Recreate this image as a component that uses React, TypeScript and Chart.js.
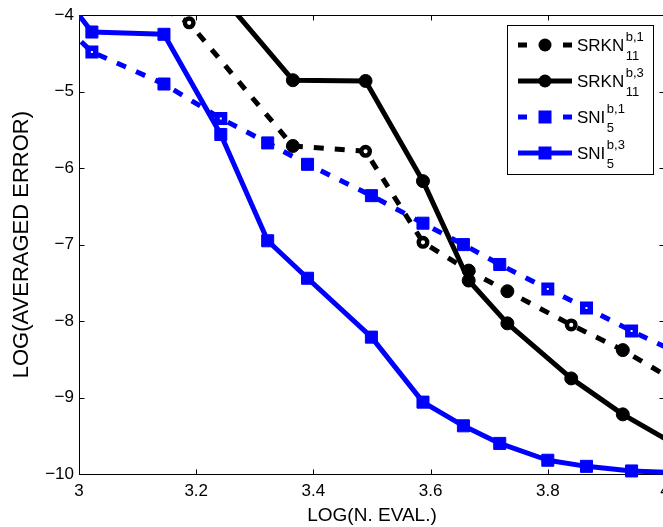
import React, { useEffect, useRef } from 'react';
import { Chart, registerables } from 'chart.js';

Chart.register(...registerables);

const FONT = '"Liberation Sans", Arial, Helvetica, sans-serif';

// log10 of the number of function evaluations for each method
const srknLogEval = [3.02, 3.188, 3.365, 3.489, 3.587, 3.665, 3.731, 3.84, 3.928, 4.01];
const srknB1Err = [-3.4, -4.1, -5.71, -5.78, -6.97, -7.34, -7.61, -8.05, -8.38, -8.75];
const srknB3Err = [null, -3.25, -4.85, -4.86, -6.17, -7.47, -8.03, -8.75, -9.22, -9.58];

const sniLogEval = [2.9, 3.022, 3.145, 3.242, 3.322, 3.39, 3.499, 3.587, 3.656, 3.718, 3.8, 3.866, 3.943, 4.02];
const sniB1Err = [-3.59, -4.48, -4.9, -5.35, -5.67, -5.95, -6.36, -6.72, -7.0, -7.26, -7.58, -7.83, -8.13, -8.41];
const sniB3Err = [-3.0, -4.22, -4.25, -5.56, -6.95, -7.44, -8.21, -9.06, -9.37, -9.6, -9.82, -9.9, -9.96, -9.985];

// markers printed as rings (white centre) on the dashed curves
const srknB1RingIdx = [1, 3, 4, 7];
const sniB1RingIdx = [1, 3, 10, 11, 12];

const xTickValues = [3, 3.2, 3.4, 3.6, 3.8, 4];
const xTickLabels = ['3', '3.2', '3.4', '3.6', '3.8', '4'];
const yTickValues = [-10, -9, -8, -7, -6, -5, -4];
const yTickLabels = ['\u221210', '\u22129', '\u22128', '\u22127', '\u22126', '\u22125', '\u22124'];

const legendNames = ['SRKN', 'SRKN', 'SNI', 'SNI'];
const legendSup = ['b,1', 'b,3', 'b,1', 'b,3'];
const legendSub = ['11', '11', '5', '5'];

const BLUE = '#0000ff';
const BLACK = '#000000';

type Style = 'circle' | 'rect';

function makeSeries(
  xs: number[],
  ys: (number | null)[],
  color: string,
  dashed: boolean,
  style: Style,
  rings: number[],
  order: number,
) {
  const isRing = (i: number) => rings.includes(i);
  const radius = (c: any) =>
    style === 'circle' ? (isRing(c.dataIndex) ? 4.3 : 6.5) : isRing(c.dataIndex) ? 5.3 : 8.5;
  const bw = (c: any) =>
    style === 'circle' ? (isRing(c.dataIndex) ? 4.4 : 1) : isRing(c.dataIndex) ? 5.5 : 1;
  return {
    data: xs.map((x, i) => ({ x, y: ys[i] })),
    borderColor: color,
    backgroundColor: color,
    borderWidth: 5,
    borderDash: dashed ? [10, 11] : [],
    borderJoinStyle: 'round',
    pointStyle: style,
    pointRadius: radius,
    pointHoverRadius: radius,
    pointBorderWidth: bw,
    pointHoverBorderWidth: bw,
    pointBackgroundColor: (c: any) => (isRing(c.dataIndex) ? '#ffffff' : color),
    pointBorderColor: color,
    tension: 0,
    spanGaps: false,
    clip: { left: 0, top: 0, right: 0, bottom: 10 },
    order,
    _dashed: dashed,
    _style: style,
  };
}

const framePlugin = {
  id: 'boxFrame',
  beforeDatasetsDraw(chart: any) {
    const { ctx, chartArea: a, scales } = chart;
    const l = Math.round(a.left) + 0.5;
    const r = Math.round(a.right) - 0.5;
    const t = Math.round(a.top) + 0.5;
    const b = Math.round(a.bottom) + 0.5;
    ctx.save();
    ctx.strokeStyle = BLACK;
    ctx.lineWidth = 1;
    ctx.setLineDash([]);
    ctx.strokeRect(l, t, r - l, b - t);
    ctx.beginPath();
    for (const v of xTickValues) {
      const x = Math.round(scales.x.getPixelForValue(v)) + 0.5;
      ctx.moveTo(x, b);
      ctx.lineTo(x, b - 5);
      ctx.moveTo(x, t);
      ctx.lineTo(x, t + 5);
    }
    for (const v of yTickValues) {
      const y = Math.round(scales.y.getPixelForValue(v)) + 0.5;
      ctx.moveTo(l, y);
      ctx.lineTo(l + 5, y);
      ctx.moveTo(r, y);
      ctx.lineTo(r - 5, y);
    }
    ctx.stroke();
    ctx.restore();
  },
};

const legendPlugin = {
  id: 'subscriptLegend',
  afterDraw(chart: any) {
    const { ctx, chartArea: a } = chart;
    const bw = 146;
    const bh = 149;
    const bx = Math.round(a.right) - 12 - bw + 0.5;
    const by = Math.round(a.top) + 10 + 0.5;
    ctx.save();
    ctx.fillStyle = '#ffffff';
    ctx.fillRect(bx, by, bw, bh);
    ctx.strokeStyle = BLACK;
    ctx.lineWidth = 1;
    ctx.setLineDash([]);
    ctx.strokeRect(bx, by, bw, bh);

    chart.data.datasets.forEach((ds: any, i: number) => {
      const cy = by + 19.5 + i * 36;
      const x0 = bx + 10.5;
      const x1 = x0 + 54;
      const mx = (x0 + x1) / 2;
      ctx.strokeStyle = ds.borderColor;
      ctx.lineWidth = ds.borderWidth;
      ctx.lineCap = 'butt';
      ctx.setLineDash(ds._dashed ? [9, 13.5] : []);
      ctx.beginPath();
      ctx.moveTo(x0, cy);
      ctx.lineTo(x1, cy);
      ctx.stroke();
      ctx.setLineDash([]);
      ctx.fillStyle = ds.borderColor;
      if (ds._style === 'circle') {
        ctx.beginPath();
        ctx.arc(mx, cy, 6.5, 0, Math.PI * 2);
        ctx.fill();
      } else {
        ctx.fillRect(mx - 6.5, cy - 6.5, 13, 13);
      }
      const tx = x1 + 5;
      ctx.fillStyle = BLACK;
      ctx.textAlign = 'left';
      ctx.textBaseline = 'alphabetic';
      ctx.font = `17px ${FONT}`;
      ctx.fillText(legendNames[i], tx, cy + 6);
      const w = ctx.measureText(legendNames[i]).width;
      ctx.font = `13px ${FONT}`;
      ctx.fillText(legendSup[i], tx + w + 1.5, cy - 4.5);
      ctx.fillText(legendSub[i], tx + w + 1.5, cy + 15);
    });
    ctx.restore();
  },
};

export default function App() {
  const ref = useRef<HTMLCanvasElement>(null);

  useEffect(() => {
    if (!ref.current) return;
    const chart = new Chart(ref.current, {
      type: 'line',
      data: {
        datasets: [
          makeSeries(srknLogEval, srknB1Err, BLACK, true, 'circle', srknB1RingIdx, 4),
          makeSeries(srknLogEval, srknB3Err, BLACK, false, 'circle', [], 3),
          makeSeries(sniLogEval, sniB1Err, BLUE, true, 'rect', sniB1RingIdx, 2),
          makeSeries(sniLogEval, sniB3Err, BLUE, false, 'rect', [], 1),
        ] as any,
      },
      options: {
        animation: false,
        responsive: false,
        maintainAspectRatio: false,
        devicePixelRatio: 1,
        events: [],
        layout: { padding: { left: 0, top: 12, right: 15, bottom: 0 } },
        plugins: {
          legend: { display: false },
          tooltip: { enabled: false },
          title: { display: false },
        },
        scales: {
          x: {
            type: 'linear',
            min: 3,
            max: 4,
            afterFit: (s: any) => {
              s.height = 53;
            },
            afterBuildTicks: (s: any) => {
              s.ticks = xTickValues.map((value) => ({ value }));
            },
            ticks: {
              autoSkip: false,
              maxRotation: 0,
              padding: 7,
              color: BLACK,
              font: { family: FONT, size: 17 },
              callback: (_v: any, i: number) => xTickLabels[i],
            },
            grid: { display: false, drawTicks: false, tickLength: 0 },
            border: { display: false },
            title: {
              display: true,
              text: 'LOG(N. EVAL.)',
              color: BLACK,
              font: { family: FONT, size: 19 },
              padding: { top: 0, bottom: 0 },
            },
          },
          y: {
            type: 'linear',
            min: -10,
            max: -4,
            afterFit: (s: any) => {
              s.width = 79;
            },
            afterBuildTicks: (s: any) => {
              s.ticks = yTickValues.map((value) => ({ value }));
            },
            ticks: {
              autoSkip: false,
              padding: 5,
              color: BLACK,
              font: { family: FONT, size: 17 },
              callback: (_v: any, i: number) => yTickLabels[i],
            },
            grid: { display: false, drawTicks: false, tickLength: 0 },
            border: { display: false },
            title: {
              display: true,
              text: 'LOG(AVERAGED ERROR)',
              color: BLACK,
              font: { family: FONT, size: 22 },
              padding: { top: 9, bottom: 0 },
            },
          },
        },
      } as any,
      plugins: [framePlugin, legendPlugin],
    });
    return () => chart.destroy();
  }, []);

  return (
    <div
      style={{
        position: 'fixed',
        left: 0,
        top: 0,
        width: 663,
        height: 527,
        overflow: 'hidden',
        background: '#ffffff',
      }}
    >
      <canvas ref={ref} width={680} height={527} style={{ display: 'block', width: 680, height: 527 }} />
    </div>
  );
}
